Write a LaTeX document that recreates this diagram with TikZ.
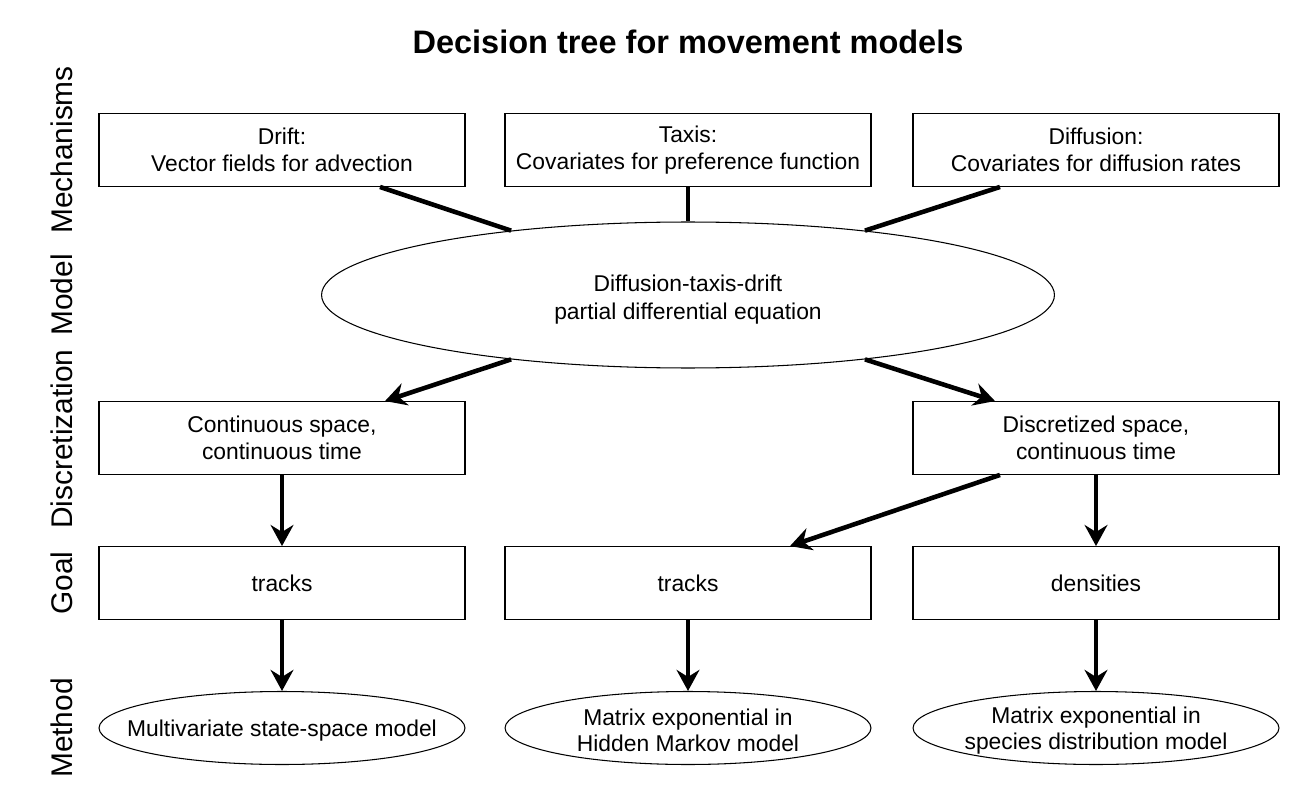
\documentclass[tikz,border=0pt]{standalone}
\usepackage{fontspec}
\setmainfont{Liberation Sans}
\usepackage{tikz}
\usetikzlibrary{arrows.meta,shapes,positioning,calc}
\tikzset{
  dtbox/.style={
    rectangle, draw=black, fill=white, line width=0.8pt,
    minimum width=7.32cm, minimum height=1.45cm, inner sep=1pt,
    align=center, font=\fontsize{13}{15}\selectfont
  },
  dtoval/.style={
    ellipse, draw=black, fill=white, line width=0.6pt,
    minimum width=7.32cm, minimum height=1.46cm, inner sep=0pt
  },
  dtovaltext/.style={align=center, inner sep=0pt, yshift=-1.5pt, font=\fontsize{13}{15}\selectfont},
  dtpde/.style={dtoval,minimum width=14.66cm,minimum height=2.92cm},
  dtedge/.style={line width=2.6pt},
  dtarrow/.style={dtedge,-{Stealth[length=12pt,width=13pt,inset=4pt]}},
  dtrow/.style={rotate=90,font=\fontsize{17}{20}\selectfont},
  dttitle/.style={font=\fontsize{18.5}{22}\selectfont\bfseries}
}
\begin{document}
\begin{tikzpicture}[x=0.02cm,y=-0.02cm]
  \useasboundingbox (0,0) rectangle (1300,800);
  \node[dttitle] (title) at (688,42) {Decision tree for movement models};

  % row labels
  \node[dtrow] (lmech) at (62,150) {Mechanisms};
  \node[dtrow] (lmod) at (62,295) {Model};
  \node[dtrow] (ldisc) at (62,439) {Discretization};
  \node[dtrow] (lgoal) at (62,583) {Goal};
  \node[dtrow] (lmeth) at (62,728) {Method};

  % mechanisms
  \node[dtbox] (drift) at (282,150) {Drift:\\Vector fields for advection};
  \node[dtbox] (taxis) at (688,150) {Taxis:\\Covariates for preference function};
  \node[dtbox] (diff) at (1096,150) {Diffusion:\\Covariates for diffusion rates};

  % model
  \node[dtpde,label={[dtovaltext,yshift=-1pt,font=\fontsize{13}{16}\selectfont]center:{Diffusion-taxis-drift\\ partial differential equation}}] (pde) at (688,295) {};

  % discretization
  \node[dtbox] (cont) at (282,438) {Continuous space,\\ continuous time};
  \node[dtbox] (disc) at (1096,438) {Discretized space,\\ continuous time};

  % goal
  \node[dtbox] (tracksa) at (282,583) {tracks};
  \node[dtbox] (tracksb) at (688,583) {tracks};
  \node[dtbox] (dens) at (1096,583) {densities};

  % method
  \node[dtoval,label={[dtovaltext]center:{Multivariate state-space model}}] (ssm) at (282,728) {};
  \node[dtoval,label={[dtovaltext]center:{Matrix exponential in\\Hidden Markov model}}] (hmm) at (688,728) {};
  \node[dtoval,label={[dtovaltext]center:{Matrix exponential in\\species distribution model}}] (sdm) at (1096,728) {};

  \draw[dtedge] ($(drift.south)+(98,0)$) -- (pde.160);
  \draw[dtedge] (taxis.south) -- (pde.north);
  \draw[dtedge] ($(diff.south)+(-96,0)$) -- (pde.20);
  \draw[dtarrow] (pde.200) -- ($(cont.north)+(103,0)$);
  \draw[dtarrow] (pde.340) -- ($(disc.north)+(-101,0)$);
  \draw[dtarrow] (cont) -- (tracksa);
  \draw[dtarrow] ($(disc.south)+(-96,0)$) -- ($(tracksb.north)+(102,0)$);
  \draw[dtarrow] (disc) -- (dens);
  \draw[dtarrow] (tracksa) -- (ssm);
  \draw[dtarrow] (tracksb) -- (hmm);
  \draw[dtarrow] (dens) -- (sdm);
\end{tikzpicture}
\end{document}
